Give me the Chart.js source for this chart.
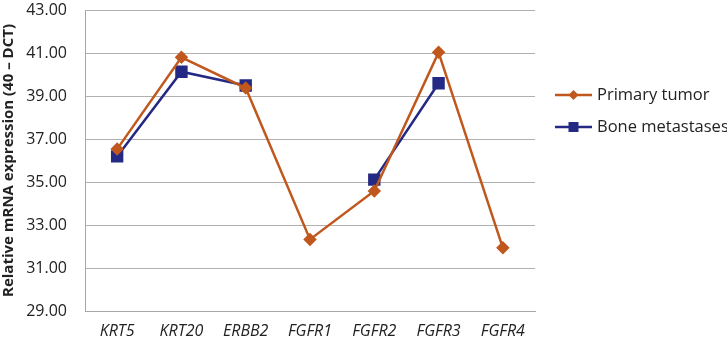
<!DOCTYPE html>
<html>
<head>
<meta charset="utf-8">
<script src="https://cdn.jsdelivr.net/npm/chart.js@4.4.1/dist/chart.umd.min.js"></script>
<style>
  html, body { margin: 0; padding: 0; background: #fff; }
  #wrap { width: 727px; height: 346px; position: relative; }
</style>
</head>
<body>
<div id="wrap"><canvas id="chart"></canvas></div>
<script>
const genes = ['KRT5', 'KRT20', 'ERBB2', 'FGFR1', 'FGFR2', 'FGFR3', 'FGFR4'];
const primaryTumor = [36.53, 40.8, 39.37, 32.33, 34.58, 41.03, 31.94];
const boneMetastases = [36.19, 40.13, 39.49, null, 35.11, 39.59, null];
const yTicks = [29, 31, 33, 35, 37, 39, 41, 43];

const fontFamily = "'Open Sans', 'Liberation Sans', sans-serif";
const orange = 'rgb(192, 88, 30)';
const navy = 'rgb(36, 42, 132)';

// draws the legend at the right like the original
const sideLegend = {
    id: 'sideLegend',
    afterDraw(chart) {
        const ctx = chart.ctx;
        const x0 = 555, x1 = 592;
        const rows = [95, 127];
        ctx.save();
        chart.data.datasets.forEach((ds, i) => {
            const y = rows[i];
            ctx.strokeStyle = ds.borderColor;
            ctx.lineWidth = 2.5;
            ctx.beginPath();
            ctx.moveTo(x0, y);
            ctx.lineTo(x1, y);
            ctx.stroke();
            ctx.fillStyle = ds.borderColor;
            const cx = (x0 + x1) / 2;
            if (ds.pointStyle === 'rect') {
                ctx.fillRect(cx - 5, y - 5, 10, 10);
            } else {
                ctx.beginPath();
                ctx.moveTo(cx, y - 5);
                ctx.lineTo(cx + 5, y);
                ctx.lineTo(cx, y + 5);
                ctx.lineTo(cx - 5, y);
                ctx.closePath();
                ctx.fill();
            }
            ctx.fillStyle = '#222';
            ctx.font = '16.5px ' + fontFamily;
            ctx.textBaseline = 'middle';
            ctx.textAlign = 'left';
            ctx.fillText(ds.label, 597, y);
        });
        ctx.restore();
    }
};

new Chart(document.getElementById('chart'), {
    type: 'line',
    data: {
        labels: genes,
        datasets: [{
            label: 'Primary tumor',
            data: primaryTumor,
            borderColor: orange,
            backgroundColor: orange,
            borderWidth: 2.5,
            pointStyle: 'rectRot',
            pointRadius: 5,
            pointHoverRadius: 5,
            tension: 0,
            spanGaps: false
        }, {
            label: 'Bone metastases',
            data: boneMetastases,
            borderColor: navy,
            backgroundColor: navy,
            borderWidth: 2.5,
            pointStyle: 'rect',
            pointRadius: 7,
            pointHoverRadius: 7,
            tension: 0,
            spanGaps: false
        }]
    },
    options: {
        responsive: true,
        maintainAspectRatio: false,
        animation: false,
        layout: { padding: { left: 0, right: 192, top: 0, bottom: 0 } },
        plugins: {
            legend: { display: false },
            tooltip: { enabled: false }
        },
        scales: {
            x: {
                offset: true,
                grid: { display: false, drawTicks: false },
                border: { display: true, color: '#a6a6a6', width: 1 },
                ticks: {
                    color: '#222',
                    padding: 11,
                    font: { family: fontFamily, size: 16, style: 'italic' }
                },
                afterFit(scale) { scale.height = 35; }
            },
            y: {
                min: 29,
                max: 43,
                afterBuildTicks(scale) {
                    scale.ticks = yTicks.map(v => ({ value: v }));
                },
                grid: { color: '#b0b0b0', lineWidth: 1, drawTicks: false },
                border: { display: true, color: '#a6a6a6', width: 1 },
                ticks: {
                    color: '#222',
                    padding: 18,
                    font: { family: fontFamily, size: 16 },
                    callback: v => Number(v).toFixed(2)
                },
                title: {
                    display: true,
                    text: 'Relative mRNA expression (40 – DCT)',
                    color: '#222',
                    padding: { top: 0, bottom: 2 },
                    font: { family: fontFamily, size: 15, weight: 'bold' }
                },
                afterFit(scale) {
                    scale.width = 85;
                    // tick padding gets added to the top gap otherwise
                    scale.paddingTop = 10;
                    scale.paddingBottom = 0;
                }
            }
        }
    },
    plugins: [sideLegend]
});
</script>
</body>
</html>
